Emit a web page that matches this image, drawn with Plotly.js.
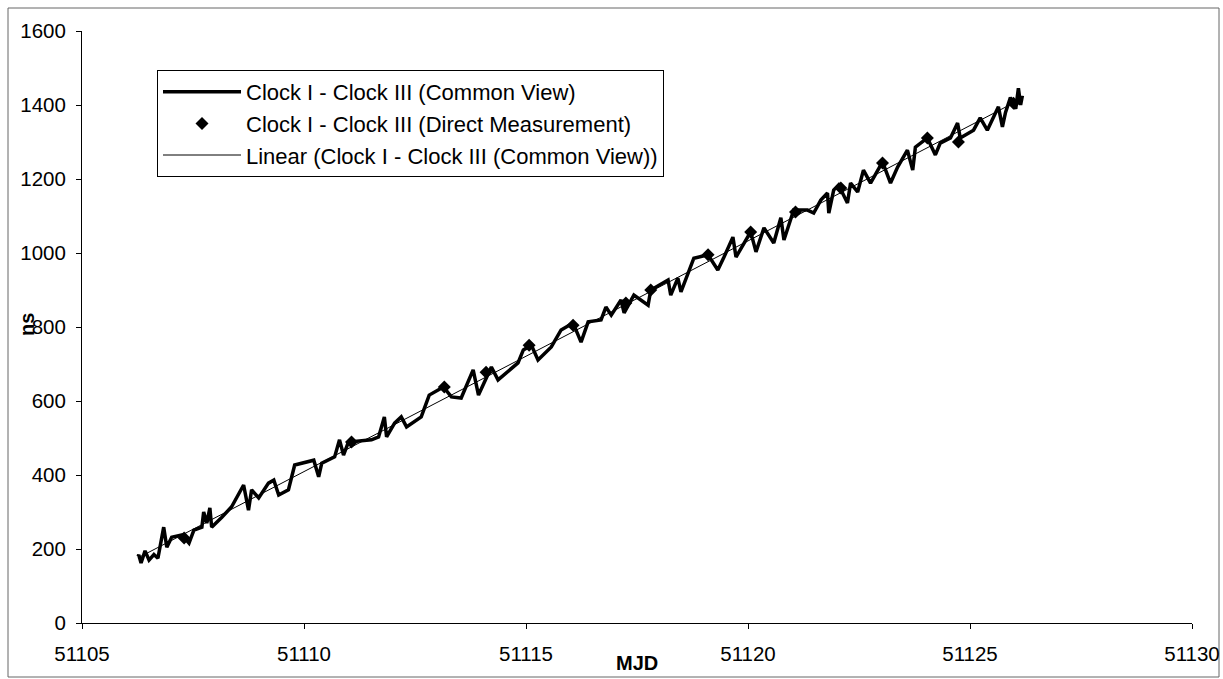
<!DOCTYPE html>
<html>
<head>
<meta charset="utf-8">
<script src="https://cdn.plot.ly/plotly-3.0.1.min.js"></script>
<style>
  html, body { margin: 0; padding: 0; background: #fff; }
  #chart { width: 1223px; height: 679px; }
</style>
</head>
<body>
<div id="chart"></div>
<script>
// Clock I - Clock III (Common View)
const cvMJD = [
  51106.26, 51106.28, 51106.33, 51106.42, 51106.51, 51106.62, 51106.71, 51106.84, 51106.91, 51107.02,
  51107.25, 51107.41, 51107.52, 51107.70, 51107.74, 51107.81, 51107.88, 51107.92, 51108.15, 51108.37,
  51108.64, 51108.75, 51108.82, 51108.98, 51109.20, 51109.32, 51109.43, 51109.65, 51109.79, 51109.95,
  51110.22, 51110.33, 51110.40, 51110.69, 51110.80, 51110.89, 51111.00, 51111.52, 51111.68, 51111.81,
  51111.86, 51112.04, 51112.19, 51112.31, 51112.64, 51112.82, 51113.03, 51113.14, 51113.32, 51113.54,
  51113.81, 51113.93, 51114.22, 51114.37, 51114.82, 51114.94, 51115.12, 51115.27, 51115.57, 51115.79,
  51116.06, 51116.24, 51116.40, 51116.69, 51116.80, 51116.92, 51117.14, 51117.21, 51117.43, 51117.75,
  51117.81, 51118.20, 51118.26, 51118.42, 51118.49, 51118.78, 51119.10, 51119.32, 51119.46, 51119.66,
  51119.73, 51120.06, 51120.18, 51120.36, 51120.58, 51120.74, 51120.81, 51121.03, 51121.34, 51121.48,
  51121.64, 51121.79, 51121.82, 51121.93, 51122.04, 51122.24, 51122.31, 51122.47, 51122.60, 51122.76,
  51123.03, 51123.21, 51123.37, 51123.59, 51123.71, 51123.77, 51124.04, 51124.22, 51124.33, 51124.56,
  51124.72, 51124.78, 51125.08, 51125.23, 51125.39, 51125.64, 51125.73, 51125.80, 51125.91, 51126.03,
  51126.09, 51126.14, 51126.18
];
const cvNs = [
  180, 184, 162, 195, 170, 185, 175, 259, 205, 232,
  238, 216, 251, 259, 300, 270, 311, 259, 286, 314,
  373, 305, 360, 338, 378, 386, 346, 360, 427, 432,
  440, 395, 432, 449, 495, 454, 489, 495, 503, 557,
  503, 540, 557, 530, 557, 616, 630, 638, 611, 608,
  684, 616, 692, 657, 703, 738, 751, 711, 746, 792,
  811, 759, 814, 819, 854, 832, 873, 838, 886, 859,
  900, 927, 886, 932, 895, 986, 995, 954, 989, 1043,
  989, 1057, 1003, 1068, 1027, 1095, 1035, 1116, 1116, 1108,
  1143, 1162, 1108, 1170, 1184, 1135, 1189, 1165, 1224, 1189,
  1246, 1189, 1232, 1278, 1224, 1286, 1311, 1265, 1297, 1311,
  1351, 1311, 1332, 1365, 1332, 1395, 1341, 1380, 1420, 1390,
  1445, 1400, 1425
];

// Clock I - Clock III (Direct Measurement)
const dmMJD = [51107.30, 51111.07, 51113.16, 51114.10, 51115.07, 51116.06, 51117.25, 51117.81,
               51119.10, 51120.06, 51121.07, 51122.09, 51123.03, 51124.04, 51124.74, 51125.98];
const dmNs  = [230, 489, 638, 678, 751, 805, 865, 900,
               995, 1057, 1111, 1176, 1243, 1311, 1300, 1405];

// Linear (Clock I - Clock III (Common View))
const trendMJD = [51106.26, 51126.18];
const trendNs  = [176, 1418];

const names = [
  'Clock I - Clock III (Common View)',
  'Clock I - Clock III (Direct Measurement)',
  'Linear (Clock I - Clock III (Common View))'
];
const xTickVals = [51105, 51110, 51115, 51120, 51125, 51130];
const yTickVals = [0, 200, 400, 600, 800, 1000, 1200, 1400, 1600];

const FONT = 'Liberation Sans, Arial, sans-serif';
const FS = 20.5;

const traces = [
  { x: cvMJD, y: cvNs, name: names[0], type: 'scatter', mode: 'lines',
    line: { color: '#000', width: 3.5 } },
  { x: dmMJD, y: dmNs, name: names[1], type: 'scatter', mode: 'markers',
    marker: { symbol: 'diamond', color: '#000', size: 10 } },
  { x: trendMJD, y: trendNs, name: names[2], type: 'scatter', mode: 'lines',
    line: { color: '#000', width: 1 } }
];

const L = 82, R = 1192, T = 31, B = 623;
const W = R - L, H = B - T;

const layout = {
  width: 1223, height: 679,
  margin: { l: L, r: 1223 - R, t: T, b: 679 - B },
  paper_bgcolor: '#fff', plot_bgcolor: '#fff',
  font: { family: FONT, size: FS, color: '#000' },
  showlegend: true,
  legend: {
    x: (157 - L) / W, y: (B - 70) / H, xanchor: 'left', yanchor: 'top',
    bgcolor: '#fff', bordercolor: '#000', borderwidth: 1,
    font: { family: FONT, size: 22, color: '#000' },
    tracegroupgap: 0, itemwidth: 78
  },
  xaxis: {
    range: [51105, 51130], tickvals: xTickVals, ticktext: xTickVals.map(String),
    showgrid: false, zeroline: false, showline: true, linecolor: '#000', linewidth: 1,
    ticks: 'outside', ticklen: 5, tickcolor: '#000', ticklabelstandoff: 7,
    tickfont: { family: FONT, size: FS, color: '#000' }
  },
  yaxis: {
    range: [0, 1600], tickvals: yTickVals, ticktext: yTickVals.map(String),
    showgrid: false, zeroline: false, showline: true, linecolor: '#000', linewidth: 1,
    ticks: 'outside', ticklen: 5, tickcolor: '#000', ticklabelstandoff: 6,
    tickfont: { family: FONT, size: FS, color: '#000' }
  },
  annotations: [
    { text: '<b>MJD</b>', xref: 'paper', yref: 'paper', x: (637 - L) / W, y: -(663 - B) / H,
      xanchor: 'center', yanchor: 'middle', showarrow: false,
      font: { family: FONT, size: 20, color: '#000' } },
    { text: '<b>ns</b>', xref: 'paper', yref: 'paper', x: (27 - L) / W, y: (B - 325) / H,
      xanchor: 'center', yanchor: 'middle', showarrow: false, textangle: -90,
      font: { family: FONT, size: 20, color: '#000' } }
  ],
  shapes: [
    { type: 'rect', xref: 'paper', yref: 'paper',
      x0: (8 - L) / W, x1: (1219 - L) / W,
      y0: (B - 677) / H, y1: (B - 8) / H,
      line: { color: '#666', width: 1 }, fillcolor: 'rgba(0,0,0,0)', layer: 'below' }
  ]
};

Plotly.newPlot('chart', traces, layout, { displayModeBar: false, staticPlot: true });
</script>
</body>
</html>
